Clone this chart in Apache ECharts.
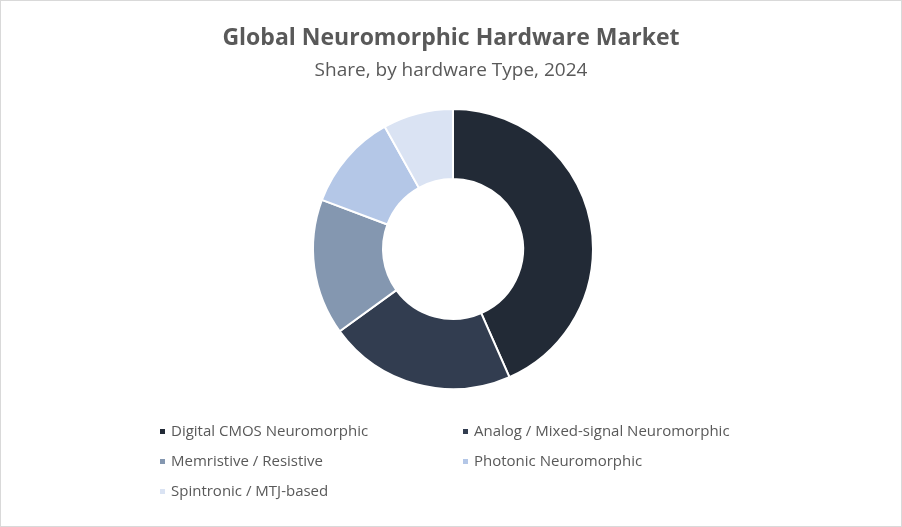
<!DOCTYPE html>
<html><head><meta charset="utf-8">
<script src="https://cdn.jsdelivr.net/npm/echarts@6/dist/echarts.min.js"></script>
<style>html,body{margin:0;padding:0;background:#fff}#c{width:902px;height:527px;box-sizing:border-box;border:1px solid #d9d9d9}</style>
</head><body><div id="c"></div>
<script>
const categories = ["Digital CMOS Neuromorphic","Analog / Mixed-signal Neuromorphic","Memristive / Resistive","Photonic Neuromorphic","Spintronic / MTJ-based"];
const values = [43.4, 21.6, 15.7, 11.2, 8.1];
const colors = ["#222a36","#323d50","#8497b0","#b4c7e7","#dae3f3"];
const chart = echarts.init(document.getElementById('c'));
const legTxt = {fontFamily:'Open Sans',fontSize:15,color:'#595959'};
chart.setOption({
  animation:false,
  title:{text:"Global Neuromorphic Hardware Market",subtext:"Share, by hardware Type, 2024",left:'center',top:21,
    textStyle:{fontFamily:'Open Sans',fontSize:23,fontWeight:'bold',color:'#595959'},
    subtextStyle:{fontFamily:'Open Sans',fontSize:19,color:'#595959'},itemGap:11},
  legend:[
    {data:[categories[0],categories[2],categories[4]],orient:'vertical',left:152,top:418,itemWidth:7,itemHeight:7,itemGap:15,icon:'rect',textStyle:legTxt},
    {data:[categories[1],categories[3]],orient:'vertical',left:455,top:418,itemWidth:7,itemHeight:7,itemGap:15,icon:'rect',textStyle:legTxt}
  ],
  series:[{type:'pie',center:[452,248],radius:[70,140],startAngle:90,clockwise:true,label:{show:false},
    itemStyle:{borderColor:'#fff',borderWidth:2},
    data:categories.map((c,i)=>({name:c,value:values[i],itemStyle:{color:colors[i]}}))}]
});
</script></body></html>
